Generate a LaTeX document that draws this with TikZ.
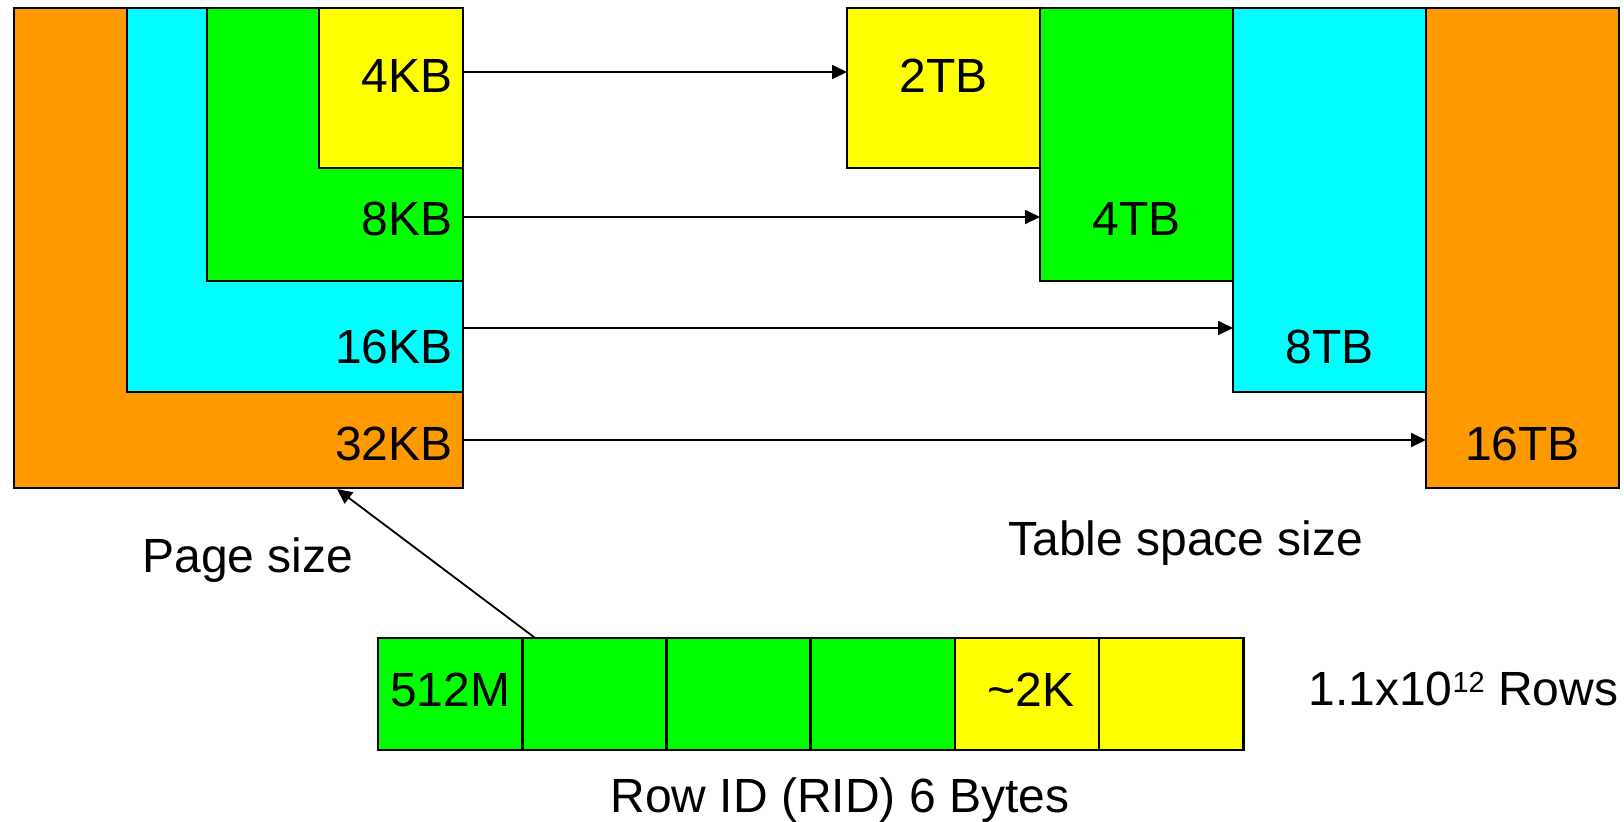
\documentclass[tikz,border=0pt]{standalone}
\usepackage{fontspec}
\setmainfont{Liberation Sans}
\usetikzlibrary{arrows.meta,positioning}

\definecolor{ridorange}{HTML}{FF9900}
\definecolor{ridcyan}{HTML}{00FFFF}
\definecolor{ridgreen}{HTML}{00FF00}
\definecolor{ridyellow}{HTML}{FFFF00}

\begin{document}
\begin{tikzpicture}[x=0.5pt, y=-0.5pt,
  box/.style = {draw, line width=1.3pt, rectangle, inner sep=0pt, outer sep=0pt, anchor=north west},
  lbl/.style = {inner sep=0pt, font=\fontsize{24}{29}\selectfont},
  arr/.style = {-{Triangle[length=7.5pt,width=7pt]}, line width=0.9pt}]
  \useasboundingbox (0,0) rectangle (1624,821);

  % page sizes, nested
  \node[box, fill=ridorange, minimum width=224.5pt, minimum height=240pt] (p32) at (14,8) {};
  \node[box, fill=ridcyan, minimum width=168pt, minimum height=192pt] (p16) at (127,8) {};
  \node[box, fill=ridgreen, minimum width=128pt, minimum height=136.5pt] (p8) at (207,8) {};
  \node[box, fill=ridyellow, minimum width=72pt, minimum height=80pt] (p4) at (319,8) {};
  \node[lbl, anchor=base east] (l4) at (453,92) {4KB};
  \node[lbl, anchor=base east] (l8) at (453,235) {8KB};
  \node[lbl, anchor=base east] (l16) at (453,363) {16KB};
  \node[lbl, anchor=base east] (l32) at (453,460) {32KB};

  % table space sizes
  \node[box, fill=ridyellow, minimum width=96.5pt, minimum height=80pt] (t2) at (847,8) {};
  \node[box, fill=ridgreen, minimum width=96.5pt, minimum height=136.5pt] (t4) at (t2.north east) {};
  \node[box, fill=ridcyan, minimum width=96.5pt, minimum height=192pt] (t8) at (t4.north east) {};
  \node[box, fill=ridorange, minimum width=96.5pt, minimum height=240pt] (t16) at (t8.north east) {};
  \node[lbl, anchor=base] (m2) at (t2.center |- 0,92) {2TB};
  \node[lbl, anchor=base] (m4) at (t4.center |- 0,235) {4TB};
  \node[lbl, anchor=base] (m8) at (t8.center |- 0,363) {8TB};
  \node[lbl, anchor=base] (m16) at (t16.center |- 0,460) {16TB};

  \coordinate (y4) at (0,72);
  \coordinate (y8) at (0,217);
  \coordinate (y16) at (0,328);
  \coordinate (y32) at (0,440);
  \draw[arr] (p4.east |- y4) -- (t2.west |- y4);
  \draw[arr] (p4.east |- y8) -- (t4.west |- y8);
  \draw[arr] (p4.east |- y16) -- (t8.west |- y16);
  \draw[arr] (p4.east |- y32) -- (t16.west |- y32);

  \node[lbl, anchor=base west] (psize) at (142,572) {Page size};
  \node[lbl, anchor=base west] (tsize) at (1008,555) {Table space size};

  % the row id
  \foreach \i/\c in {1/ridgreen,2/ridgreen,3/ridgreen,4/ridgreen,5/ridyellow,6/ridyellow}
    \node[box, fill=\c, minimum width=72.1pt, minimum height=56pt] (r\i) at ({378+144.2*(\i-1)},638) {};
  \node[lbl, anchor=base] (n512) at (r1.center |- 0,706) {512M};
  \node[lbl, anchor=base] (n2k) at (1031,706) {\textasciitilde 2K};
  \node[lbl, anchor=base] (rid) at (840,812) {Row ID (RID) 6 Bytes};
  \node[lbl, anchor=base west] (rows) at (1308,705)
    {1.1x10\raisebox{6.5pt}{\fontsize{14.5}{14.5}\selectfont 12} Rows};

  \draw[arr] ([xshift=6.5pt]r2.north west) -- ([xshift=-63pt,yshift=-0.5pt]p32.south east);
\end{tikzpicture}
\end{document}
